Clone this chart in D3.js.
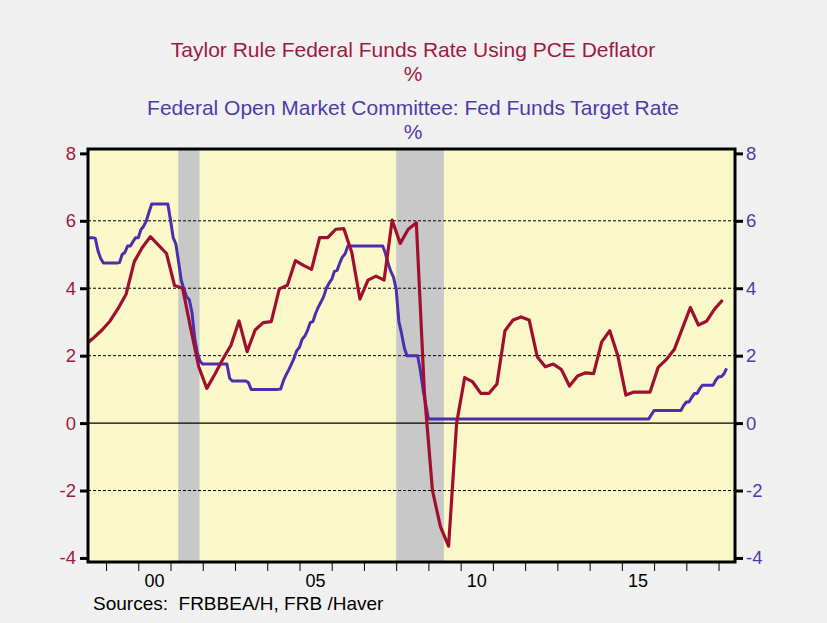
<!DOCTYPE html>
<html><head><meta charset="utf-8">
<script src="https://cdn.jsdelivr.net/npm/d3@7"></script>
<style>
body{margin:0;background:#f0f0f0;}
svg{display:block;font-family:"Liberation Sans",Arial,sans-serif;}
</style>
</head><body>
<svg id="chart" width="827" height="623"></svg>
<script>
// ---------------- DATA ----------------
const titleTaylor = "Taylor Rule Federal Funds Rate Using PCE Deflator";
const titleFed = "Federal Open Market Committee: Fed Funds Target Rate";
const unitLabel = "%";
const sourceText = "Sources:  FRBBEA/H, FRB /Haver";

// Taylor rule, quarterly, first value = 1998 Q2
const taylorStartYear = 1998, taylorStartQuarter = 2;
const taylorRule = [
  2.33, 2.54, 2.76,
  3.03, 3.40, 3.83, 4.79,
  5.21, 5.53, 5.28, 5.03,
  4.08, 4.00, 2.81, 1.67,
  1.03, 1.45, 1.90, 2.31,
  3.03, 2.12, 2.76, 2.98,
  3.01, 3.98, 4.09, 4.82,
  4.68, 4.56, 5.50, 5.50,
  5.75, 5.77, 5.05, 3.68,
  4.24, 4.36, 4.24, 6.02,
  5.33, 5.75, 5.94, 0.90,
  -2.00, -3.08, -3.65, 0.00,
  1.35, 1.22, 0.88, 0.88,
  1.16, 2.74, 3.06, 3.15,
  3.06, 1.97, 1.67, 1.75,
  1.59, 1.10, 1.40, 1.49,
  1.47, 2.41, 2.74, 2.00,
  0.83, 0.92, 0.92, 0.92,
  1.65, 1.88, 2.18, 2.80,
  3.43, 2.91, 3.02, 3.38,
  3.65
];

// Fed funds target rate, monthly, first value = June 1998
const fedStartYear = 1998, fedStartMonth = 6;
const fedFunds = [
  5.5, 5.5, 5.5, 5.48, 5.11, 4.88, 4.75,
  4.75, 4.75, 4.75, 4.75, 4.75, 4.76, 5.0, 5.06, 5.25, 5.25, 5.38, 5.5,
  5.5, 5.74, 5.84, 6.0, 6.26, 6.5, 6.5, 6.5, 6.5, 6.5, 6.5, 6.5,
  6.02, 5.5, 5.31, 4.78, 4.23, 3.97, 3.75, 3.66, 3.27, 2.52, 2.08, 1.83,
  1.75, 1.75, 1.75, 1.75, 1.75, 1.75, 1.75, 1.75, 1.75, 1.75, 1.33, 1.25,
  1.25, 1.25, 1.25, 1.25, 1.25, 1.2, 1.0, 1.0, 1.0, 1.0, 1.0, 1.0,
  1.0, 1.0, 1.0, 1.0, 1.0, 1.01, 1.25, 1.43, 1.58, 1.75, 1.93, 2.15,
  2.25, 2.49, 2.58, 2.75, 2.98, 3.01, 3.25, 3.44, 3.59, 3.75, 4.0, 4.15,
  4.26, 4.5, 4.53, 4.75, 4.93, 5.02, 5.25, 5.25, 5.25, 5.25, 5.25, 5.25,
  5.25, 5.25, 5.25, 5.25, 5.25, 5.25, 5.25, 5.25, 5.03, 4.74, 4.5, 4.33,
  3.97, 3.0, 2.66, 2.24, 2.0, 2.0, 2.0, 2.0, 2.0, 1.56, 1.0, 0.55,
  0.125, 0.125, 0.125, 0.125, 0.125, 0.125, 0.125, 0.125, 0.125, 0.125, 0.125, 0.125,
  0.125, 0.125, 0.125, 0.125, 0.125, 0.125, 0.125, 0.125, 0.125, 0.125, 0.125, 0.125,
  0.125, 0.125, 0.125, 0.125, 0.125, 0.125, 0.125, 0.125, 0.125, 0.125, 0.125, 0.125,
  0.125, 0.125, 0.125, 0.125, 0.125, 0.125, 0.125, 0.125, 0.125, 0.125, 0.125, 0.125,
  0.125, 0.125, 0.125, 0.125, 0.125, 0.125, 0.125, 0.125, 0.125, 0.125, 0.125, 0.125,
  0.125, 0.125, 0.125, 0.125, 0.125, 0.125, 0.125, 0.125, 0.125, 0.125, 0.125, 0.125,
  0.125, 0.125, 0.125, 0.125, 0.125, 0.125, 0.125, 0.125, 0.125, 0.125, 0.125, 0.25,
  0.375, 0.375, 0.375, 0.375, 0.375, 0.375, 0.375, 0.375, 0.375, 0.375, 0.375, 0.52,
  0.625, 0.625, 0.76, 0.875, 0.875, 1.02, 1.125, 1.125, 1.125, 1.125, 1.125, 1.28,
  1.375, 1.375, 1.46, 1.625
];

// Recessions (decimal years)
const recessionStarts = [2001.24, 2008.0];
const recessionEnds = [2001.9, 2009.48];

const yTickValues = [-4, -2, 0, 2, 4, 6, 8];
const yGridValues = [-2, 2, 4, 6];
const xTickYears = [1999, 2000, 2001, 2002, 2003, 2004, 2005, 2006, 2007, 2008, 2009,
                    2010, 2011, 2012, 2013, 2014, 2015, 2016, 2017, 2018];
const xLabelYears = [2000, 2005, 2010, 2015];
const xLabels = ["00", "05", "10", "15"];

// ---------------- LAYOUT ----------------
const W = 827, H = 623;
const plot = {left: 88, right: 735, top: 149, bottom: 562};
const colRed = "#a0102e", colRedText = "#a01a3e";
const colBlue = "#4b2fae", colBlueText = "#4d3ca8";
const colBg = "#f0f0f0", colPlot = "#faf8c8", colRec = "#c8c8c8";

const svg = d3.select("#chart");
svg.append("rect").attr("width", W).attr("height", H).attr("fill", colBg);

const x = d3.scaleLinear().domain([1998.44, 2018.51]).range([plot.left, plot.right]);
const y = d3.scaleLinear().domain([-4.12, 8.13]).range([plot.bottom, plot.top]);

// plot background
svg.append("rect")
  .attr("x", plot.left).attr("y", plot.top)
  .attr("width", plot.right - plot.left).attr("height", plot.bottom - plot.top)
  .attr("fill", colPlot);

svg.append("clipPath").attr("id", "clip").append("rect")
  .attr("x", plot.left).attr("y", plot.top)
  .attr("width", plot.right - plot.left).attr("height", plot.bottom - plot.top);

const g = svg.append("g").attr("clip-path", "url(#clip)");

// recession bars
g.selectAll("rect.rec").data(recessionStarts.map((s, i) => [s, recessionEnds[i]]))
  .enter().append("rect").attr("class", "rec")
  .attr("x", d => x(d[0])).attr("width", d => x(d[1]) - x(d[0]))
  .attr("y", plot.top).attr("height", plot.bottom - plot.top)
  .attr("fill", colRec);

// grid
g.selectAll("line.grid").data(yGridValues).enter().append("line")
  .attr("x1", plot.left).attr("x2", plot.right)
  .attr("y1", d => y(d)).attr("y2", d => y(d))
  .attr("stroke", "#000").attr("stroke-width", 1)
  .attr("stroke-dasharray", "3,2");
g.append("line")
  .attr("x1", plot.left).attr("x2", plot.right)
  .attr("y1", y(0)).attr("y2", y(0))
  .attr("stroke", "#000").attr("stroke-width", 1.4);

// series
const fedPts = fedFunds.map((v, i) => [fedStartYear + (fedStartMonth - 1 + i) / 12, v]);
const taylorPts = taylorRule.map((v, i) => [taylorStartYear + (taylorStartQuarter - 1 + i) / 4 + 0.125, v]);
const line = d3.line().x(d => x(d[0])).y(d => y(d[1]));

g.append("path").datum(fedPts).attr("d", line)
  .attr("fill", "none").attr("stroke", colBlue).attr("stroke-width", 3)
  .attr("stroke-linejoin", "round");
g.append("path").datum(taylorPts).attr("d", line)
  .attr("fill", "none").attr("stroke", colRed).attr("stroke-width", 3.2)
  .attr("stroke-linejoin", "round");

// frame
svg.append("rect")
  .attr("x", plot.left).attr("y", plot.top)
  .attr("width", plot.right - plot.left).attr("height", plot.bottom - plot.top)
  .attr("fill", "none").attr("stroke", "#000").attr("stroke-width", 3);

const fmt = d => String(d);

// left axis
const leftAxis = d3.axisLeft(y).tickValues(yTickValues).tickSize(8).tickPadding(4)
  .tickFormat(fmt);
const gl = svg.append("g").attr("transform", `translate(${plot.left},0)`).call(leftAxis);
gl.select(".domain").remove();
gl.selectAll(".tick line").attr("stroke", "#000").attr("stroke-width", 3);
gl.selectAll(".tick text").attr("fill", colRedText).attr("font-size", 18.5)
  .attr("font-family", "Liberation Sans, Arial, sans-serif").attr("x", -12);

// right axis
const rightAxis = d3.axisRight(y).tickValues(yTickValues).tickSize(8).tickPadding(4)
  .tickFormat(fmt);
const gr = svg.append("g").attr("transform", `translate(${plot.right},0)`).call(rightAxis);
gr.select(".domain").remove();
gr.selectAll(".tick line").attr("stroke", "#000").attr("stroke-width", 3);
gr.selectAll(".tick text").attr("fill", colBlueText).attr("font-size", 18.5)
  .attr("font-family", "Liberation Sans, Arial, sans-serif").attr("x", 11);

// bottom axis: ticks at year boundaries
const bottomAxis = d3.axisBottom(x).tickValues(xTickYears).tickSize(8).tickFormat("");
const gb = svg.append("g").attr("transform", `translate(0,${plot.bottom + 1})`).call(bottomAxis);
gb.select(".domain").remove();
gb.selectAll(".tick line").attr("stroke", "#000").attr("stroke-width", 1);

// year labels centred in the year
svg.selectAll("text.xl").data(xLabelYears).enter().append("text")
  .attr("class", "xl")
  .attr("x", d => x(d + 0.5)).attr("y", 587)
  .attr("text-anchor", "middle").attr("font-size", 18).attr("fill", "#000")
  .text((d, i) => xLabels[i]);

// titles
const titles = [
  {t: titleTaylor, y: 57, c: colRedText},
  {t: unitLabel, y: 81, c: colRedText},
  {t: titleFed, y: 115, c: colBlueText},
  {t: unitLabel, y: 139, c: colBlueText}
];
svg.selectAll("text.title").data(titles).enter().append("text")
  .attr("class", "title")
  .attr("x", 413).attr("y", d => d.y)
  .attr("text-anchor", "middle").attr("font-size", 21)
  .attr("fill", d => d.c).text(d => d.t);

// sources
svg.append("text").attr("x", 93).attr("y", 610)
  .attr("font-size", 19).attr("fill", "#000")
  .style("white-space", "pre").text(sourceText);
</script>
</body></html>
